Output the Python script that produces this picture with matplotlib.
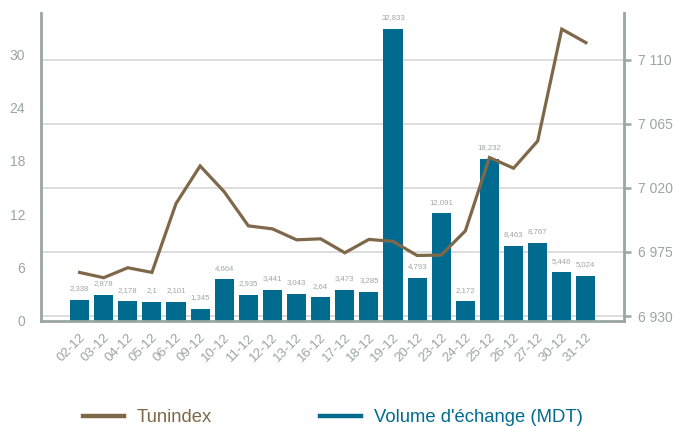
import matplotlib
matplotlib.use("Agg")
import matplotlib.pyplot as plt
import matplotlib.transforms as mtransforms
from matplotlib.lines import Line2D

plt.rcParams['font.family'] = ['Liberation Sans', 'DejaVu Sans']

dates = ["02-12", "03-12", "04-12", "05-12", "06-12", "09-12", "10-12", "11-12",
         "12-12", "13-12", "16-12", "17-12", "18-12", "19-12", "20-12", "23-12",
         "24-12", "25-12", "26-12", "27-12", "30-12", "31-12"]
volume = [2.338, 2.878, 2.178, 2.1, 2.101, 1.345, 4.664, 2.935, 3.441, 3.043, 2.64,
          3.473, 3.285, 32.833, 4.793, 12.091, 2.172, 18.232, 8.463, 8.767, 5.446, 5.024]
tunindex = [6960.6, 6956.9, 6963.9, 6960.6, 7009.0, 7035.4, 7017.2, 6993.3, 6991.2,
            6983.5, 6984.2, 6974.4, 6983.8, 6982.4, 6972.5, 6972.8, 6989.8, 7041.3,
            7033.8, 7052.9, 7131.5, 7122.0]
left_ticks = [0, 6, 12, 18, 24, 30]
right_ticks = [6930, 6975, 7020, 7065, 7110]

bar_color = "#006b8e"
line_color = "#7f6849"
axis_gray = "#9aa6a0"
text_gray = "#9aa6a0"
grid_color = "#dadada"

fig = plt.figure(figsize=(6.75, 4.26), dpi=100)
ax = fig.add_axes([41/675, 1 - 320.7/426, (624-41)/675, (320.7-13.3)/426])
ax2 = ax.twinx()

x = list(range(len(dates)))
ax.bar(x, volume, width=0.79, color=bar_color, zorder=2)
for xi, v in zip(x, volume):
    ax.annotate(f"{v:g}".replace('.', ','), (xi, v), xytext=(0, 5.5),
                textcoords='offset points', ha='center', va='bottom',
                fontsize=5.6, color="#a0a6a4")

ax.set_xlim(-1.6, 22.58)
ax.set_ylim(0, 34.6)
ax2.set_ylim(6926.7, 7142.6)

# gridlines aligned to right axis ticks, behind bars
blend = mtransforms.blended_transform_factory(ax.transAxes, ax2.transData)
ax.hlines(right_ticks, 0, 1, transform=blend, colors=grid_color, linewidth=1.3, zorder=1)

ax2.plot(x, tunindex, color=line_color, linewidth=2.3, solid_joinstyle='miter')

ax.set_yticks(left_ticks)
ax.set_yticklabels([str(t) for t in left_ticks])
ax.tick_params(axis='y', length=0, pad=11.5, labelsize=10, labelcolor=text_gray)
ax.set_xticks(x)
ax.set_xticklabels(dates, rotation=45, ha='right', va='top')
ax.tick_params(axis='x', length=0, pad=8, labelsize=9.6, labelcolor=text_gray)
offset = mtransforms.ScaledTranslation(8/100, 0, fig.dpi_scale_trans)
for lab in ax.get_xticklabels():
    lab.set_transform(lab.get_transform() + offset)

ax2.set_yticks(right_ticks)
ax2.set_yticklabels([f"{t:,}".replace(',', ' ') for t in right_ticks])
ax2.tick_params(axis='y', length=5, width=1.8, color=axis_gray, pad=5,
                labelsize=10, labelcolor=text_gray)

for a in (ax, ax2):
    a.spines['top'].set_visible(False)
    for s in ('left', 'right', 'bottom'):
        a.spines[s].set_color(axis_gray)
        a.spines[s].set_linewidth(2)
ax.spines['right'].set_visible(False)
ax2.spines['left'].set_visible(False)
ax2.spines['bottom'].set_visible(False)

handles = [Line2D([], [], color=line_color, linewidth=3.2),
           Line2D([], [], color=bar_color, linewidth=3.2)]
fig.legend(handles, ["Tunindex", "Volume d'échange (MDT)"], loc='center left',
           bbox_to_anchor=(83/675, 1 - 418/426), ncol=2, frameon=False,
           fontsize=13.3, labelcolor='linecolor', handlelength=2.2,
           handletextpad=0.7, columnspacing=5.87, borderpad=0, borderaxespad=0)

fig.savefig("out.png", dpi=100)
